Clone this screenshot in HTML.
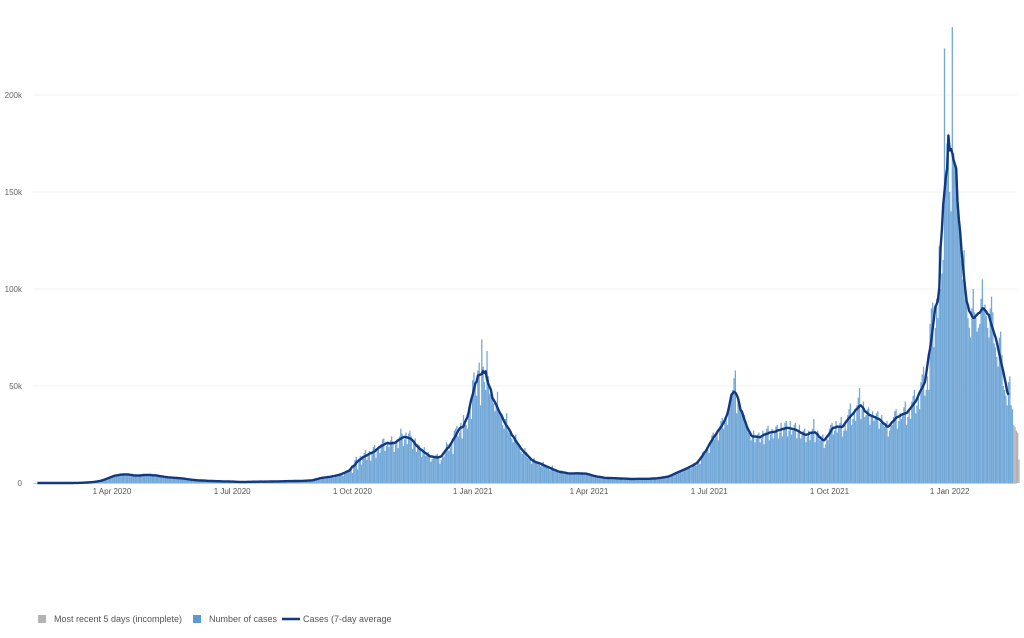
<!DOCTYPE html>
<html><head><meta charset="utf-8"><style>
body{margin:0;background:#fff;font-family:"Liberation Sans",sans-serif;}
svg text{font-family:"Liberation Sans",sans-serif;}
</style></head><body>
<svg id="chart" width="1024" height="633" xmlns="http://www.w3.org/2000/svg">
<g id="grid"></g>
<g id="yaxis"></g>
<g id="xaxis"></g>
<g id="bars"></g>
<path id="avg" fill="none" stroke="#12387f" stroke-width="2.4" stroke-linejoin="round"/>
<g font-size="9" fill="#555">
<rect x="38" y="615" width="8" height="8" fill="#b3b3b3"/>
<text x="54" y="622">Most recent 5 days (incomplete)</text>
<rect x="193" y="615" width="8" height="8" fill="#5b9bd5"/>
<text x="209" y="622">Number of cases</text>
<line x1="282" y1="619" x2="300" y2="619" stroke="#12387f" stroke-width="2.4"/>
<text x="303" y="622">Cases (7-day average</text>
</g>
</svg>
<script>
// Daily cases (thousands), starting 31 Jan 2020, one row per week
const dailyCases = [
0,0,0,0,0,0,0, 0,0,0,0,0,0,0, 0,0,0,0,0,0,0, 0,0,0,0,0,0,0,
0,0,0,0,0.1,0,0.1, 0.1,0.1,0.1,0.1,0.2,0.2,0.3, 0.3,0.3,0.4,0.5,0.6,0.6,0.7, 0.8,0.9,1.0,1.2,1.5,1.6,1.8,
2.1,2.5,2.6,3.0,3.4,3.6,3.8, 4.0,4.2,4.4,3.8,3.9,4.5,4.9, 4.6,4.3,4.8,4.2,3.9,4.4,4.1, 3.8,4.2,3.7,3.5,3.6,4.0,3.9,
4.3,4.1,4.6,4.4,4.0,3.8,4.2, 4.1,4.3,3.9,3.6,3.8,4.0,3.5, 3.3,3.5,3.0,2.9,3.2,3.1,2.8, 2.9,2.7,2.6,2.8,2.5,2.7,2.6,
2.4,2.3,2.5,2.1,2.2,2.0,2.3, 1.8,1.7,1.6,1.5,1.6,1.4,1.5, 1.4,1.3,1.2,1.3,1.4,1.1,1.2, 1.1,1.2,1.0,1.1,0.9,1.0,1.1,
0.9,1.0,0.9,0.8,0.9,0.8,0.9, 0.8,0.7,0.9,0.8,0.7,0.8,0.7, 0.6,0.7,0.6,0.5,0.6,0.6,0.5, 0.6,0.6,0.5,0.7,0.6,0.6,0.6,
0.7,0.6,0.7,0.8,0.7,0.6,0.7, 0.7,0.8,0.7,0.7,0.6,0.8,0.7, 0.8,0.9,0.8,0.7,0.8,0.9,0.8, 0.9,1.0,0.8,0.9,1.0,0.9,0.9,
1.0,1.1,1.0,0.9,1.0,1.1,1.0, 1.1,1.2,1.0,1.1,1.2,1.0,1.1, 1.3,1.5,1.2,1.4,1.6,1.3,1.5, 2.0,2.5,2.9,2.4,2.6,3.0,2.2,
3.0,3.4,3.5,2.9,3.3,3.6,2.8, 4.0,4.3,4.4,3.9,4.6,4.8,3.7, 5.5,6.2,6.5,6.0,6.8,7.0,5.2, 9.0,12.0,13.5,7.0,12.5,14.0,9.5,
13,15.5,17,12,14,16.5,11.5, 16,18.5,19.5,13,17,19,15.5, 20,22.5,23,16.5,19,21.5,18.5, 22,24,21.5,16,20,22.5,18,
24,28,25.5,19,22.5,26,20, 25.5,27,24,17.5,21,23,16, 20,19.5,18,13.5,16,18.5,14, 15,16,14.5,11,12.5,14,13,
14.5,15,13.5,10,12,15.5,13.5, 17,21,20,16.5,18,21.5,15, 27,28,29.5,24,26,31,23, 35,32,30,28,39,41,33,
53,57,51,45,58,62,40, 74,60,52,48,68,55,46, 45,44,41,37,40,47,38, 35,34,30,28,33,36,27,
26,27,23,21,24,25,22, 19,18,16,15,17,18,16, 13,14,12,10,11.5,13,10.5, 10.5,11,9.5,8.5,10,11,9.5,
8.5,8,7.5,6.5,8,9,7, 6.5,6,5.5,5,6,6.5,5.5, 5.2,5.5,4.8,4.5,5,5.3,4.7, 5,5.3,4.8,4.6,5.1,5.4,4.8,
4.9,5,4.6,4.5,4.8,5.2,4.6, 3.8,3.5,3.3,3,3.6,3.9,3.4, 2.8,2.9,2.6,2.4,2.7,2.8,2.5, 2.5,2.6,2.4,2.3,2.5,2.7,2.4,
2.3,2.4,2.2,2.1,2.3,2.5,2.2, 2.1,2.2,2,1.9,2.1,2.3,2, 2.2,2.3,2.1,2,2.2,2.4,2.1, 2.2,2.3,2.1,2,2.2,2.4,2.2,
2.5,2.7,2.4,2.3,2.6,2.9,2.6, 3.2,3.5,3.3,3,3.4,3.8,3.6, 5,5.4,5.7,5.1,5.5,6.2,5.6, 7,7.5,7.8,7.2,7.4,8.2,7.5,
9.5,10,10.5,9,10.2,11.2,9.8, 14,16,16.5,15,17,18.5,15.5, 22,24.5,26,22.5,24,27,22, 29,32,33.5,28,31,34,30,
39,43,46,48,54,58,36, 44,40,38,36,34,35,31, 28,26,25.5,22,24,27,21, 23,25,26,21,23,27,20,
26,28,29.5,22,25,28,23, 27,29,30,23,26,31,24, 28,31,32,24,27,32,25, 27,30,31,23,26,30,23,
25,27,28,21,24,27,22, 26,28,33,21,25,27,23, 22,24,25,18,20,23,22, 28,30,31,25,27,32,26,
29,31,34,24,27,31,27, 35,38,41,30,33,36,32, 40,44,49,33,38,42,34, 35,38,39,30,34,37,32,
33,36,37,28,31,35,31, 29,31,32,24,27,30,30, 34,37,38,28,32,36,33, 36,39,42,30,34,38,33,
42,45,48,36,40,45,38, 52,56,60,45,48,55,48, 82,90,93,70,80,95,85, 122,100,108,115,224,160,175,
170,150,140,235,170,165,160, 145,135,125,115,105,120,95, 95,85,80,75,90,100,88, 85,78,80,82,95,105,90,
92,86,80,75,90,96,88, 72,70,65,60,75,78,66, 50,48,45,40,52,55,40, 38,30,29,27,26,12
];
const incompleteDays = 5;
const yTickValues = [0, 50, 100, 150, 200];
const yTickLabels = ["0", "50k", "100k", "150k", "200k"];
const xTickDays = [60, 152, 244, 336, 425, 517, 609, 701]; // days since 31 Jan 2020
const xTickLabels = ["1 Apr 2020","1 Jul 2020","1 Oct 2020","1 Jan 2021","1 Apr 2021","1 Jul 2021","1 Oct 2021","1 Jan 2022"];

const NS = "http://www.w3.org/2000/svg";
const X0 = 33.5, PXDAY = 1.307, Y0 = 483, PXK = 97/50;
const xScale = d => X0 + d * PXDAY;
const yScale = v => Y0 - v * PXK;
function mk(tag, attrs, parent){const e=document.createElementNS(NS,tag);for(const k in attrs)e.setAttribute(k,attrs[k]);parent.appendChild(e);return e;}

const grid=document.getElementById('grid'), yax=document.getElementById('yaxis'), xax=document.getElementById('xaxis'), bars=document.getElementById('bars');
yTickValues.forEach((v,i)=>{
  if(v>0){const l=mk('line',{x1:33,x2:1017,y1:yScale(v),y2:yScale(v),stroke:'#f0f0f0','stroke-width':1},grid);
  
  }
  const t=mk('text',{x:22,y:yScale(v)+3,'text-anchor':'end','font-size':8,fill:'#666'},yax);
  t.textContent=yTickLabels[i];
  
  
});
const base=mk('line',{x1:33,x2:1017,y1:Y0+0.5,y2:Y0+0.5,stroke:'#ccc','stroke-width':1},xax);


xTickDays.forEach((d,i)=>{
  const t=mk('text',{x:xScale(d),y:494,'text-anchor':'middle','font-size':8,fill:'#555'},xax);
  t.textContent=xTickLabels[i];
  
  
});
const n=dailyCases.length;
dailyCases.forEach((v,i)=>{
  const grey=i>=n-incompleteDays;
  const r=mk('rect',{x:xScale(i)-0.65,y:yScale(v),width:1.3,height:Math.max(0,v*PXK),fill:grey?'#b3b3b3':'#72a8d8'},bars);
  
  
});
// centered 7-day average over complete days
const last=n-incompleteDays-1;
let pts=[];
for(let i=3;i<=last-3;i++){let s=0;for(let k=-3;k<=3;k++)s+=dailyCases[i+k];pts.push([xScale(i),yScale(s/7)]);}
let d='M'+pts[0][0].toFixed(1)+','+pts[0][1].toFixed(1);
for(let i=1;i<pts.length;i++)d+='L'+pts[i][0].toFixed(1)+','+pts[i][1].toFixed(1);
document.getElementById('avg').setAttribute('d',d);
</script>
</body></html>
